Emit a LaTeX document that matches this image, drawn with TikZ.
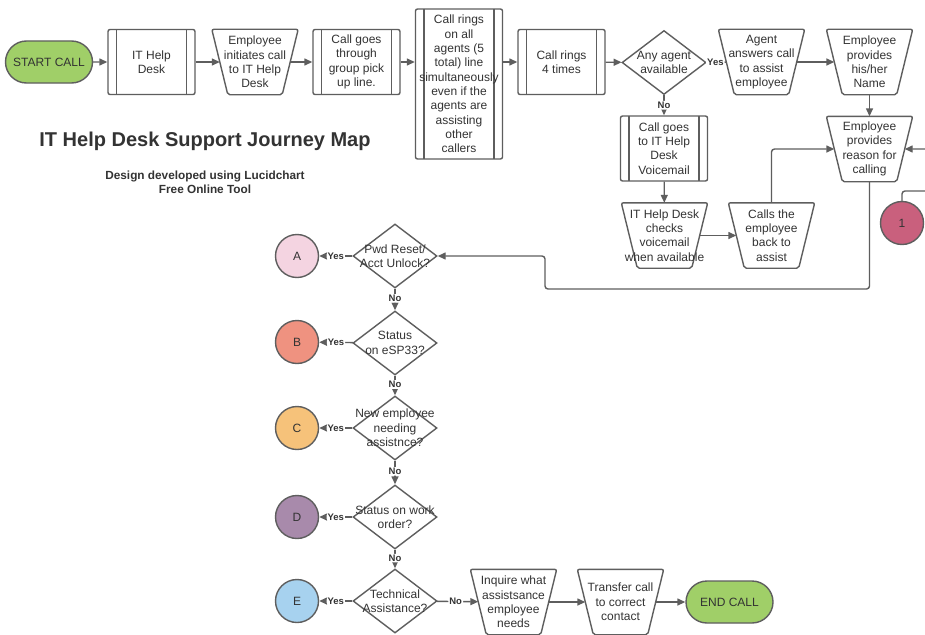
\documentclass[tikz,border=0pt]{standalone}
\usepackage{fontspec}
\setmainfont{Liberation Sans}
\usetikzlibrary{shapes.geometric,shapes.misc,arrows.meta}
\definecolor{lc}{HTML}{5E5E5E}
\definecolor{tc}{HTML}{333333}
\definecolor{gfill}{RGB}{160,207,104}
\definecolor{onefill}{HTML}{C9607D}
\definecolor{afill}{HTML}{F4D4E1}
\definecolor{bfill}{HTML}{EF9280}
\definecolor{cfill}{HTML}{F6C27A}
\definecolor{dfill}{HTML}{A88AAB}
\definecolor{efill}{HTML}{A7D2EF}
\tikzset{
  ln/.style={draw=lc, line width=1.4pt, rounded corners=3pt},
  arr/.style={ln, -{Triangle[length=8pt,width=7pt]}},
  txt/.style={font=\fontsize{12}{14.3}\selectfont, text=tc, align=center, inner sep=0pt},
  lbl/.style={font=\bfseries\fontsize{9.5}{10}\selectfont, text=tc, fill=white, inner sep=1pt},
  proc/.style={draw=lc, line width=1.4pt, rounded corners=2pt, minimum width=87, minimum height=65, inner sep=0pt, fill=white,
    path picture={\draw[lc, line width=1.4pt]
      ([xshift=8.5pt]path picture bounding box.north west) -- ([xshift=8.5pt]path picture bounding box.south west)
      ([xshift=-8.5pt]path picture bounding box.north east) -- ([xshift=-8.5pt]path picture bounding box.south east);}},
  trap/.style={rectangle, minimum width=70, minimum height=65, inner sep=0pt},
  trapline/.style={draw=lc, line width=1.4pt, rounded corners=2pt, fill=white},
  term/.style={rounded rectangle, minimum width=87, minimum height=42, draw=lc, line width=1.4pt, fill=gfill, inner sep=0pt},
  dec/.style={diamond, minimum width=84, minimum height=64, draw=lc, line width=1.4pt, inner sep=0pt, fill=white},
  circ/.style={circle, minimum size=43, draw=lc, line width=1.4pt, inner sep=0pt},
}
\begin{document}
\begin{tikzpicture}[x=1pt,y=-1pt]
\useasboundingbox[fill=white] (0,0) rectangle (925,634);
% ---------- shapes ----------
\node[term] (start) at (49,62) {};
\node[proc] (ithd) at (151.5,62) {};
\node[trap] (init) at (255,62) {};
\node[proc] (grp) at (356.5,62) {};
\node[proc, minimum height=150] (ring) at (459,84) {};
\node[proc] (four) at (561.5,62) {};
\node[dec] (any) at (664,62.5) {};
\node[trap] (agent) at (761.5,62) {};
\node[trap] (name) at (869.5,62) {};
\node[trap] (reason) at (869.5,149) {};
\node[proc] (vm) at (664,148.5) {};
\node[trap] (chk) at (664.5,235.5) {};
\node[trap] (back) at (771.5,235.5) {};
\node[circ, fill=onefill] (one) at (902,223) {};
\node[dec] (pwd) at (395,256) {};
\node[dec] (esp) at (395,343) {};
\node[dec] (newe) at (395,428) {};
\node[dec] (wo) at (395,517) {};
\node[dec] (tech) at (395,601) {};
\node[circ, fill=afill] (ca) at (297,256) {};
\node[circ, fill=bfill] (cb) at (297,342) {};
\node[circ, fill=cfill] (cc) at (297,428) {};
\node[circ, fill=dfill] (cd) at (297,517) {};
\node[circ, fill=efill] (ce) at (297,601) {};
\node[trap] (inq) at (513.5,602) {};
\node[trap] (trf) at (620.5,602) {};
\node[term] (endc) at (729.5,602) {};
\foreach \n in {init,agent,name,reason,chk,back,inq,trf}
  \draw[trapline] ([xshift=-8pt]\n.north west) -- ([xshift=8pt]\n.north east)
    -- ([xshift=-8pt]\n.south east) -- ([xshift=8pt]\n.south west) -- cycle;
% ---------- texts ----------
\node[txt] (tstart) at (start) {START CALL};
\node[txt] (tithd) at (ithd) {IT Help\\Desk};
\node[txt] (tinit) at (init) {Employee\\initiates call\\to IT Help\\Desk};
\node[txt] (tgrp) at (grp) {Call goes\\through\\group pick\\up line.};
\node[txt] (tring) at (ring) {Call rings\\on all\\agents (5\\total) line\\simultaneously\\even if the\\agents are\\assisting\\other\\callers};
\node[txt] (tfour) at (four) {Call rings\\4 times};
\node[txt] (tany) at (any) {Any agent\\available};
\node[txt] (tagent) at (agent) {Agent\\answers call\\to assist\\employee};
\node[txt] (tname) at (name) {Employee\\provides\\his/her\\Name};
\node[txt] (treason) at (reason) {Employee\\provides\\reason for\\calling};
\node[txt] (tvm) at (vm) {Call goes\\to IT Help\\Desk\\Voicemail};
\node[txt] (tchk) at (chk) {IT Help Desk\\checks\\voicemail\\when available};
\node[txt] (tback) at (back) {Calls the\\employee\\back to\\assist};
\node[txt] (tone) at (one) {1};
\node[txt] (tpwd) at (pwd) {Pwd Reset/\\Acct Unlock?};
\node[txt] (tesp) at (esp) {Status\\on eSP33?};
\node[txt] (tnewe) at (newe) {New employee\\needing\\assistnce?};
\node[txt] (two) at (wo) {Status on work\\order?};
\node[txt] (ttech) at (tech) {Technical\\Assistance?};
\node[txt] (tca) at (ca) {A};
\node[txt] (tcb) at (cb) {B};
\node[txt] (tcc) at (cc) {C};
\node[txt] (tcd) at (cd) {D};
\node[txt] (tce) at (ce) {E};
\node[txt] (tinq) at (inq) {Inquire what\\assistsance\\employee\\needs};
\node[txt] (ttrf) at (trf) {Transfer call\\to correct\\contact};
\node[txt] (tendc) at (endc) {END CALL};
\node[txt, font=\bfseries\fontsize{20}{24}\selectfont] (title) at (205,141) {IT Help Desk Support Journey Map};
\node[txt, font=\bfseries\fontsize{11.8}{14}\selectfont] (sub) at (205,182) {Design developed using Lucidchart\\Free Online Tool};
% ---------- connectors ----------
\draw[arr] (start) -- (ithd);
\draw[arr] (ithd) -- (init);
\draw[arr] (init) -- (grp);
\draw[arr] (grp.east) -- (ring.west |- grp.east);
\draw[arr] (ring.east |- four.west) -- (four.west);
\draw[arr] (four) -- (any);
\draw[ln] (any) -- (agent) node[lbl, pos=0.45] (yany) {Yes};
\draw[arr] (agent) -- (name);
\draw[arr] (name) -- (reason);
\draw[arr] (any) -- (vm) node[lbl, pos=0.5] (nany) {No};
\draw[arr] (vm) -- (chk);
\draw[arr] (chk) -- (back);
\draw[arr] (back) |- (reason);
\coordinate (r1) at (545,289);
\draw[arr] (reason) |- (r1) |- (pwd);
\coordinate (k1) at (935,191);
\draw[arr] (one) |- (k1) |- (reason);
% decisions
\draw[arr] (pwd) -- (ca) node[lbl, pos=0.5] (y1) {Yes};
\draw[arr] (esp) -- (cb) node[lbl, pos=0.5] (y2) {Yes};
\draw[arr] (newe) -- (cc) node[lbl, pos=0.5] (y3) {Yes};
\draw[arr] (wo) -- (cd) node[lbl, pos=0.5] (y4) {Yes};
\draw[arr] (tech) -- (ce) node[lbl, pos=0.5] (y5) {Yes};
\draw[arr] (pwd) -- (esp) node[lbl, pos=0.45] (n1) {No};
\draw[arr] (esp) -- (newe) node[lbl, pos=0.45] (n2) {No};
\draw[arr] (newe) -- (wo) node[lbl, pos=0.45] (n3) {No};
\draw[arr] (wo) -- (tech) node[lbl, pos=0.45] (n4) {No};
\draw[arr] (tech) -- (inq) node[lbl, pos=0.45] (n5) {No};
\draw[arr] (inq) -- (trf);
\draw[arr] (trf) -- (endc);
\end{tikzpicture}
\end{document}
